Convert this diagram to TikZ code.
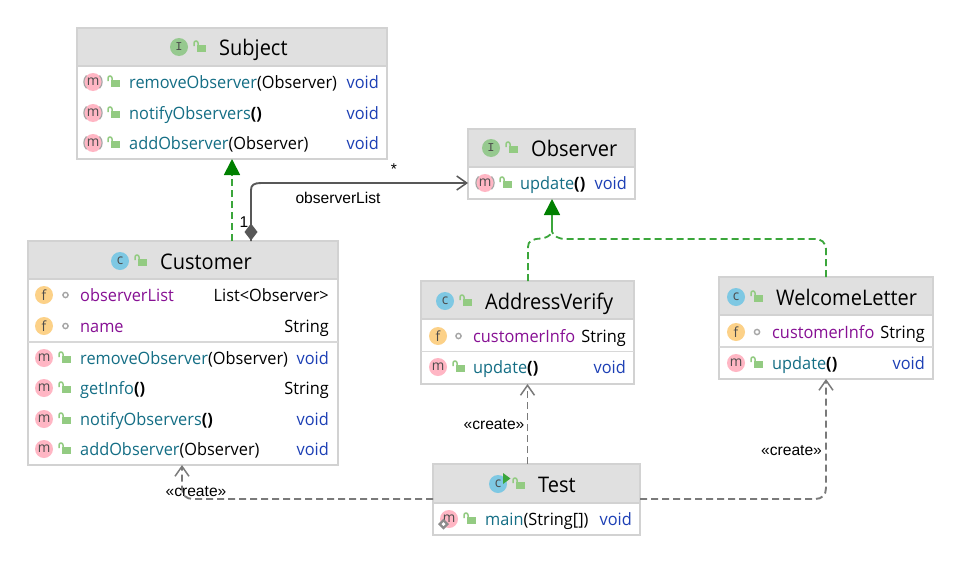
\documentclass[tikz,border=0pt]{standalone}
\usepackage{fontspec}
\setmainfont[FakeStretch=0.96]{Open Sans}
\newfontfamily\titlefont[FakeStretch=0.93]{Open Sans}
\newfontfamily\lblfont{Liberation Sans}
\newfontfamily\ifont{Liberation Mono}
\usetikzlibrary{arrows.meta,calc,shapes.geometric}
\definecolor{headgray}{HTML}{E0E0E0}
\definecolor{boxline}{HTML}{D2D2D2}
\definecolor{sepline}{HTML}{D8D8D8}
\definecolor{tealname}{HTML}{146E85}
\definecolor{purplename}{HTML}{871094}
\definecolor{voidblue}{HTML}{1C3FB5}
\definecolor{realgreen}{HTML}{3BA63B}
\definecolor{headgreen}{HTML}{008000}
\definecolor{dep}{HTML}{7A7A7A}
\definecolor{assoc}{HTML}{585858}
\definecolor{lockgreen}{HTML}{93CB82}
\definecolor{iconblue}{HTML}{7EC8E3}
\definecolor{icongreen}{HTML}{96C98F}
\definecolor{iconorange}{HTML}{FCD188}
\definecolor{iconpink}{HTML}{FFB6C4}
\tikzset{
  x=1pt,y=-1pt,
  umlbody/.style={draw=boxline,line width=1.2pt,fill=white,inner sep=0pt,outer sep=0pt,anchor=north west},
  umlhead/.style={draw=boxline,line width=1.2pt,fill=headgray,inner sep=0pt,outer sep=0pt,anchor=north west},
  septor/.style={draw=sepline,line width=1.2pt},
  titletext/.style={inner sep=0pt,anchor=base west,font=\titlefont\fontsize{21.5}{24}\selectfont,text=black},
  nametext/.style={inner sep=0pt,anchor=base west,font=\fontsize{17}{20}\selectfont},
  typetext/.style={inner sep=0pt,anchor=base east,font=\fontsize{17}{20}\selectfont},
  icontext/.style={circle,minimum size=18pt,inner sep=0pt,font=\fontsize{14}{14}\selectfont,text=black!70},
  lbl/.style={inner sep=0pt,font=\lblfont\fontsize{15.6}{18}\selectfont,text=black},
  realize/.style={draw=realgreen,line width=1.8pt,dash pattern=on 7pt off 4pt},
  depend/.style={draw=dep,line width=1.9pt,dash pattern=on 7pt off 4pt},
  assocline/.style={draw=assoc,line width=1.9pt},
  greenhead/.style={-{Triangle[width=16pt,length=16pt,color=headgreen]}},
  openhead/.style={-{Straight Barb[length=10pt,width=14pt,line width=1.5pt]}},
}
% id, x1, y1, x2, y2, header bottom
\newcommand\umlbox[6]{%
  \pgfmathsetmacro\bw{#4-#2}\pgfmathsetmacro\bh{#5-#3}\pgfmathsetmacro\hh{#6-#3}%
  \node[umlbody,minimum width=\bw pt,minimum height=\bh pt] (#1) at (#2,#3) {};
  \node[umlhead,minimum width=\bw pt,minimum height=\hh pt] (#1-head) at (#2,#3) {};
}
\newcommand\lockicon[2]{%
  \fill[lockgreen] ($(#1,#2)+(-2.5,-2)$) rectangle ($(#1,#2)+(6.5,5)$);
  \draw[lockgreen,line width=1.5pt] ($(#1,#2)+(-1,-2)$) -- ($(#1,#2)+(-1,-4)$) arc[start angle=0,end angle=180,x radius=2,y radius=-2] -- ($(#1,#2)+(-5,-1)$);
}
\newcommand\dotsym[2]{\draw[draw=black!35,line width=1.4pt,fill=white] (#1,#2) circle[radius=2.6pt];}
% id,x,y,colour,letter
\newcommand\icon[5]{\node[icontext,fill=#4] (#1) at (#2,#3) {#5};}
% abstract method icon
\newcommand\absicon[3]{%
  \node[ellipse,minimum width=14pt,minimum height=18pt,inner sep=0pt,fill=iconpink,font=\fontsize{14}{14}\selectfont,text=black!70] (#1) at (#2,#3) {m};
  \draw[black!35,line width=1.2pt] ($(#2,#3)+(-6.5,-6.5)$) arc[start angle=135,end angle=225,radius=9pt];
  \draw[black!35,line width=1.2pt] ($(#2,#3)+(6.5,-6.5)$) arc[start angle=45,end angle=-45,radius=9pt];
}
% id,y,left x,right x,name colour,name,params,type colour,type
\newcommand\textrow[9]{%
  \pgfmathsetmacro\by{#2+6}%
  \node[nametext,text=#5] (#1-name) at (#3,\by) {#6\textcolor{black}{#7}};
  \node[typetext,text=#8] (#1-type) at (#4,\by) {#9};
}
\newcommand\bparen[1]{{\bfseries #1}}
\begin{document}
\begin{tikzpicture}
\useasboundingbox (0,0) rectangle (960,562);
\fill[white] (0,0) rectangle (960,562);

% ---- class boxes
\umlbox{subject}{77}{28}{387}{159}{66}
\umlbox{observer}{468}{129}{635}{199}{167}
\umlbox{customer}{28}{241}{338}{465}{279}
\coordinate (ysep1) at (0,342);
\draw[septor] (customer.west |- ysep1) -- (customer.east |- ysep1);
\umlbox{address}{421}{281}{634}{384}{319}
\coordinate (ysep2) at (0,351.5);
\draw[septor] (address.west |- ysep2) -- (address.east |- ysep2);
\umlbox{welcome}{719}{277}{933}{379}{315}
\coordinate (ysep3) at (0,347);
\draw[septor] (welcome.west |- ysep3) -- (welcome.east |- ysep3);
\umlbox{test}{433}{464}{640}{535}{503}

% ---- Subject
\icon{subject-icon}{179}{47}{icongreen}{\ifont\fontsize{12}{12}\selectfont I}\lockicon{199}{47}
\node[titletext] (subject-title) at (219,55) {Subject};
\absicon{s1-icon}{93}{82}\lockicon{113}{82}
\textrow{s1}{82}{129}{379}{tealname}{removeObserver}{(Observer)}{voidblue}{void}
\absicon{s2-icon}{93}{113}\lockicon{113}{113}
\textrow{s2}{113}{129}{379}{tealname}{notifyObservers}{\bparen{()}}{voidblue}{void}
\absicon{s3-icon}{93}{143}\lockicon{113}{143}
\textrow{s3}{143}{129}{379}{tealname}{addObserver}{(Observer)}{voidblue}{void}

% ---- Observer
\icon{observer-icon}{491}{148}{icongreen}{\ifont\fontsize{12}{12}\selectfont I}\lockicon{511}{148}
\node[titletext] (observer-title) at (531,156) {Observer};
\absicon{o1-icon}{485}{183}\lockicon{505}{183}
\textrow{o1}{183}{520}{627}{tealname}{update}{\bparen{()}}{voidblue}{void}

% ---- Customer
\icon{customer-icon}{120}{261}{iconblue}{c}\lockicon{140}{261}
\node[titletext] (customer-title) at (160,269) {Customer};
\icon{c1-icon}{44}{295}{iconorange}{f}\dotsym{65.5}{295}
\textrow{c1}{295}{80}{329}{purplename}{observerList}{}{black}{List<Observer>}
\icon{c2-icon}{44}{326}{iconorange}{f}\dotsym{65.5}{326}
\textrow{c2}{326}{80}{329}{purplename}{name}{}{black}{String}
\icon{c3-icon}{44}{358}{iconpink}{m}\lockicon{64}{358}
\textrow{c3}{358}{80}{329}{tealname}{removeObserver}{(Observer)}{voidblue}{void}
\icon{c4-icon}{44}{388}{iconpink}{m}\lockicon{64}{388}
\textrow{c4}{388}{80}{329}{tealname}{getInfo}{\bparen{()}}{black}{String}
\icon{c5-icon}{44}{419}{iconpink}{m}\lockicon{64}{419}
\textrow{c5}{419}{80}{329}{tealname}{notifyObservers}{\bparen{()}}{voidblue}{void}
\icon{c6-icon}{44}{449}{iconpink}{m}\lockicon{64}{449}
\textrow{c6}{449}{80}{329}{tealname}{addObserver}{(Observer)}{voidblue}{void}

% ---- AddressVerify
\icon{address-icon}{445}{301}{iconblue}{c}\lockicon{465}{301}
\node[titletext] (address-title) at (485,309) {AddressVerify};
\icon{a1-icon}{438}{336}{iconorange}{f}\dotsym{458.5}{336}
\textrow{a1}{336}{473}{626}{purplename}{customerInfo}{}{black}{String}
\icon{a2-icon}{438}{367}{iconpink}{m}\lockicon{458}{367}
\textrow{a2}{367}{473}{626}{tealname}{update}{\bparen{()}}{voidblue}{void}

% ---- WelcomeLetter
\icon{welcome-icon}{736}{297}{iconblue}{c}\lockicon{756}{297}
\node[titletext] (welcome-title) at (776,305) {WelcomeLetter};
\icon{w1-icon}{736}{332}{iconorange}{f}\dotsym{757}{332}
\textrow{w1}{332}{772}{925}{purplename}{customerInfo}{}{black}{String}
\icon{w2-icon}{736}{363}{iconpink}{m}\lockicon{756}{363}
\textrow{w2}{363}{772}{925}{tealname}{update}{\bparen{()}}{voidblue}{void}

% ---- Test
\icon{test-icon}{498}{484}{iconblue}{c}
\fill[realgreen] (503,473) -- (510.5,478.5) -- (503,484) -- cycle;
\lockicon{518}{484}
\node[titletext] (test-title) at (538,492) {Test};
\icon{t1-icon}{449}{519}{iconpink}{m}
\fill[black!45] (443.5,518.5) -- (449,524) -- (443.5,529.5) -- (438,524) -- cycle;
\fill[white] (443.5,522) -- (445.5,524) -- (443.5,526) -- (441.5,524) -- cycle;
\lockicon{469}{519}
\textrow{t1}{519}{485}{632}{tealname}{main}{(String[])}{voidblue}{void}

% ---- connectors
\coordinate (xreal) at (232,0);
\coordinate (xaggr) at (251,0);
\coordinate (yaggr) at (0,183);
\coordinate (xaddr) at (528,0);
\coordinate (xobs) at (552,0);
\coordinate (merge) at (552,232);
\coordinate (xwel) at (826,0);
\coordinate (xdep) at (527.5,0);
\coordinate (ydep) at (0,499);
\coordinate (xcus) at (182,0);

\draw[realize,greenhead] (customer.north -| xreal) -- (subject.south -| xreal);
\draw[assocline,openhead] (customer.north -| xaggr) -- ++(0,-17) -- ($(xaggr |- yaggr)+(0,7)$) .. controls ($(xaggr |- yaggr)+(0,2)$) and ($(xaggr |- yaggr)+(3,0)$) .. ($(xaggr |- yaggr)+(10,0)$) -- (observer.west |- yaggr);
\fill[assoc] ($(customer.north -| xaggr)+(0,-0.5)$) -- ++(-6.5,-8.5) -- ++(6.5,-8.5) -- ++(6.5,8.5) -- cycle;

\draw[realize] (address.north -| xaddr) -- (528,247) .. controls (528,241) and (532,239) .. (541,238.5) .. controls (546,238) and (550,236) .. (merge);
\draw[realize] (welcome.north -| xwel) -- (826,250) .. controls (826,242) and (821,239) .. (815,239) -- (566,239) .. controls (558,239) and (554,236) .. (merge);
\draw[realize,greenhead,solid] (merge) -- (observer.south -| xobs);

\draw[depend,openhead] (test.north -| xdep) -- (address.south -| xdep);
\draw[depend,openhead] (test.east |- ydep) -- (815,499) .. controls (822,499) and (826,495) .. (826,488) -- (welcome.south -| xwel);
\draw[depend,openhead] (test.west |- ydep) -- (193,499) .. controls (186,499) and (182,495) .. (182,488) -- (customer.south -| xcus);

% ---- connector labels
\node[lbl] (l-one) at (244,222) {1};
\node[lbl] (l-star) at (394,169) {*};
\node[lbl] (l-list) at (338,198) {observerList};
\node[lbl] (l-c1) at (196,492) {«create»};
\node[lbl] (l-c2) at (494,424.5) {«create»};
\node[lbl] (l-c3) at (791.5,451) {«create»};
\end{tikzpicture}
\end{document}
